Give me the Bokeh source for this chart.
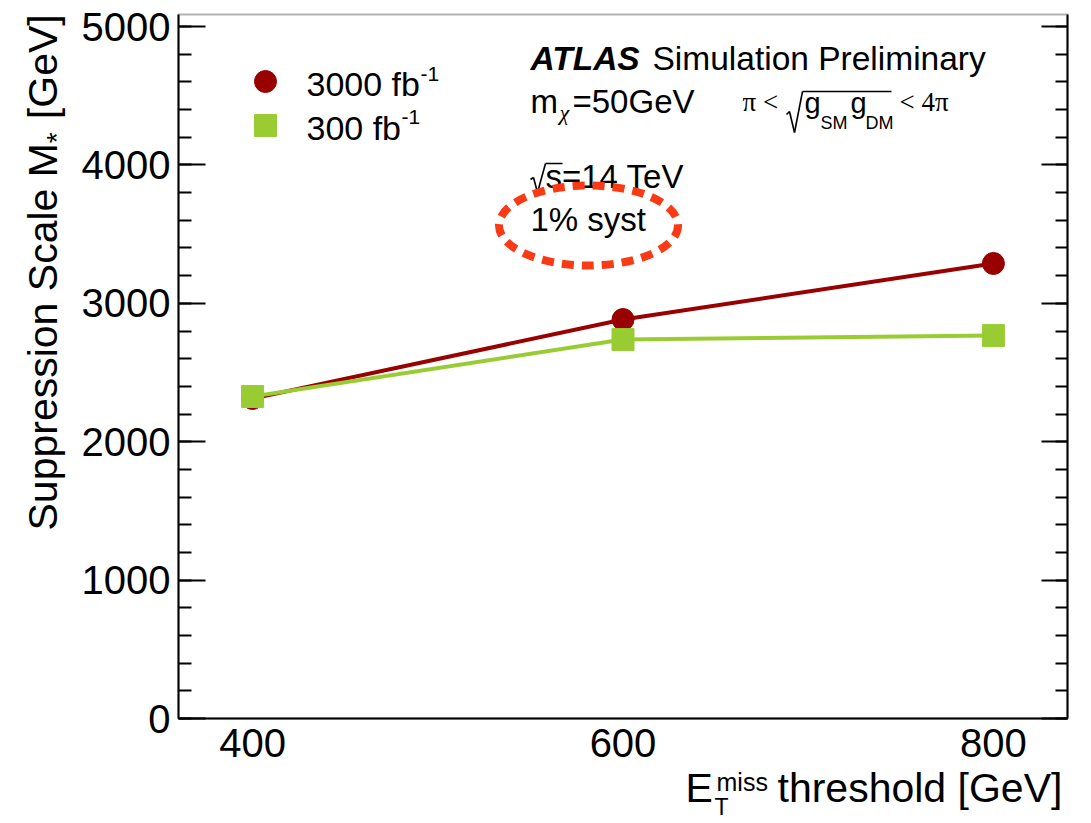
import math
from bokeh.plotting import figure
from bokeh.models import Label, LinearAxis, FixedTicker, Range1d, Arrow, BoxAnnotation
from bokeh.embed import file_html
from bokeh.resources import INLINE

# ---------------- data ----------------
thresholds = [400, 600, 800]              # E_T^miss threshold [GeV]
mstar_3000 = [2312, 2883, 3288]           # 3000 fb^-1
mstar_300 = [2327, 2738, 2767]            # 300 fb^-1
series_names = ["3000 fb", "300 fb"]
x_ticks = [400, 600, 800]
y_ticks = [0, 1000, 2000, 3000, 4000, 5000]
y_minor = list(range(0, 5001, 200))

# ---------------- layout ----------------
W, H = 1091, 823
FL, FR, FT, FB = 178, 1067, 14, 718       # visible axes box in page pixels
AX0, AX1 = 360, 840                      # x extent of the axes box
AY0, AY1 = 0, 5087                       # y extent of the axes box
SX = (AX1 - AX0) / (FR - FL)
SY = (AY1 - AY0) / (FB - FT)
FONT = "Liberation Sans"
RED = "#990000"
GREEN = "#99cc33"
K = 0.42                                 # baseline correction factor

p = figure(width=W, height=H,
           x_range=Range1d(AX0 - FL * SX, AX1 + (W - FR) * SX),
           y_range=Range1d(AY0 - (H - FB) * SY, AY1 + FT * SY),
           output_backend="svg", toolbar_location=None,
           x_axis_location=None, y_axis_location=None,
           min_border_left=0, min_border_right=0, min_border_top=0, min_border_bottom=0)
p.grid.visible = False
p.outline_line_color = None
p.background_fill_color = "white"
p.border_fill_color = "white"

# bottom axis
xa = LinearAxis(fixed_location=AY0, bounds=(AX0, AX1), ticker=FixedTicker(ticks=x_ticks),
                major_tick_in=0, major_tick_out=0, minor_tick_in=0, minor_tick_out=0,
                axis_line_width=2, major_label_text_font=FONT,
                major_label_text_font_size="40px", major_label_text_color="black",
                major_label_standoff=10)
p.add_layout(xa, "below")

# left axis
ya = LinearAxis(fixed_location=AX0, bounds=(AY0, AY1),
                ticker=FixedTicker(ticks=y_ticks, minor_ticks=y_minor),
                major_tick_in=27, major_tick_out=0, minor_tick_in=13, minor_tick_out=0,
                major_tick_line_width=2, minor_tick_line_width=2, axis_line_width=2,
                major_label_text_font=FONT, major_label_text_font_size="40px",
                major_label_text_color="black", major_label_standoff=8)
p.add_layout(ya, "left")

# right axis (mirror ticks only)
ry = LinearAxis(fixed_location=AX1, bounds=(AY0, AY1),
                ticker=FixedTicker(ticks=y_ticks, minor_ticks=y_minor),
                major_tick_in=26, major_tick_out=0, minor_tick_in=12, minor_tick_out=0,
                major_tick_line_width=2, minor_tick_line_width=2, axis_line_width=2,
                major_label_overrides={t: "" for t in y_ticks}, major_label_standoff=0)
p.add_layout(ry, "right")

# box outline
p.add_layout(BoxAnnotation(left=AX0, right=AX1, bottom=AY0, top=AY1,
                           fill_alpha=0, line_color="black", line_width=2))

# ---------------- series ----------------
p.line(thresholds, mstar_3000, line_color=RED, line_width=4)
p.scatter(thresholds, mstar_3000, marker="circle", size=22, fill_color=RED, line_color=RED)
p.line(thresholds, mstar_300, line_color=GREEN, line_width=4)
p.scatter(thresholds, mstar_300, marker="square", size=22, fill_color=GREEN, line_color=GREEN)


# ---------------- helpers ----------------
def dx(X):
    return AX0 + (X - FL) * SX


def dy(Y):
    return AY0 + (FB - Y) * SY


def put(text, X, Y, size, style="normal", rotated=False, font=FONT, color="black"):
    if rotated:
        X = X - K * size
        ang = math.pi / 2
    else:
        Y = Y - K * size
        ang = 0.0
    p.add_layout(Label(x=X, y=H - Y, x_units="screen", y_units="screen",
                       text=text, text_font=font, text_font_size=f"{size}px",
                       text_font_style=style, text_color=color,
                       text_baseline="alphabetic", text_align="left", angle=ang))


def stroke(points, w=1.6):
    for (xa_, ya_), (xb_, yb_) in zip(points[:-1], points[1:]):
        p.add_layout(Arrow(x_start=xa_, y_start=H - ya_, x_end=xb_, y_end=H - yb_,
                           start_units="screen", end_units="screen", end=None, start=None,
                           line_color="black", line_width=w))


# ---------------- legend ----------------
p.scatter([dx(265)], [dy(81)], marker="circle", size=22, fill_color=RED, line_color=RED)
p.scatter([dx(265)], [dy(125)], marker="square", size=22, fill_color=GREEN, line_color=GREEN)
put(series_names[0], 306, 98, 34)
put("-1", 420, 82, 21)
put(series_names[1], 306, 142, 34)
put("-1", 401, 125, 21)

# ---------------- ATLAS texts ----------------
put("ATLAS", 530, 72, 33.5, style="bold italic")
put("Simulation Preliminary", 652, 72, 33.5)
put("m", 530, 115, 33)
put("\u03c7", 559, 121, 22, style="italic", font="Liberation Serif")
put("=50GeV", 572, 115, 33)
put("\u03c0 <", 742, 113, 27, font="Liberation Serif")
stroke([(786, 114), (789, 111), (794, 132), (802, 91), (891, 91)])
put("g", 804, 115, 29)
put("SM", 820, 130, 18)
put("g", 850, 115, 29)
put("DM", 865, 130, 18)
put("< 4\u03c0", 899, 113, 27, font="Liberation Serif")
stroke([(530, 179), (533, 177), (537, 192), (545, 163), (562, 163)])
put("s=14 TeV", 545, 190, 33)
put("1% syst", 530, 233, 33)

# hand-drawn highlight ellipse
ell = p.ellipse(x=[dx(588)], y=[dy(225)], width=179, height=80,
                width_units="screen", height_units="screen",
                fill_alpha=0, line_color="#fa3a14", line_width=8, line_dash="12 8")
ell.level = "overlay"

# ---------------- axis titles ----------------
fs_y = 41
base_x = 60
start_y = 530
w1 = 9448 * fs_y / 1000.0
put("Suppression Scale M", base_x, start_y, fs_y, rotated=True)
put("*", base_x + 8, start_y - w1, 28, rotated=True)
put("[GeV]", base_x, start_y - w1 - 11 - 13, fs_y, rotated=True)

put("E", 685, 805, 41)
put("miss", 716, 792, 25)
put("T", 714, 816, 23)
put("threshold [GeV]", 777, 805, 41)

open("out.html", "w").write(file_html(p, INLINE))
